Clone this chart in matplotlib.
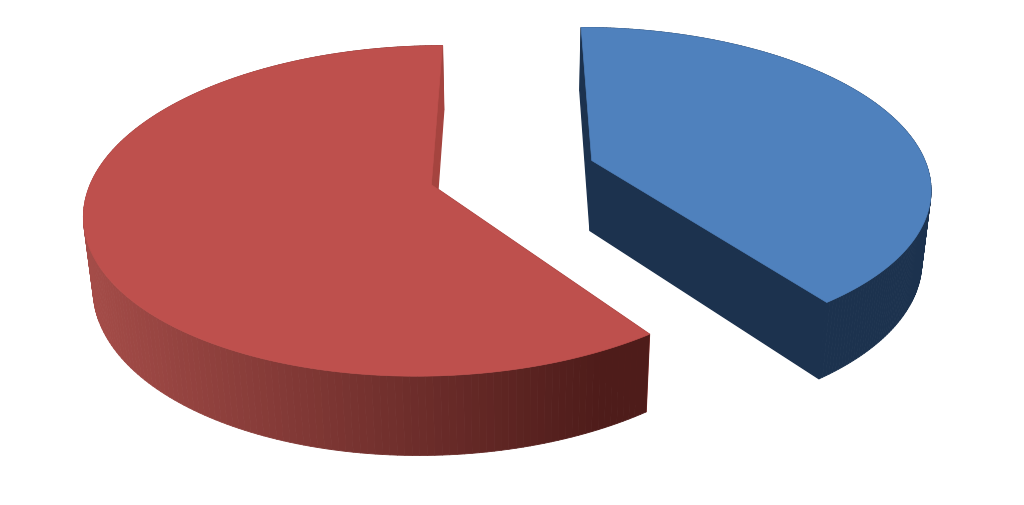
import numpy as np
import matplotlib
matplotlib.use('Agg')
import matplotlib.pyplot as plt
from matplotlib.collections import PolyCollection
from matplotlib.colors import LinearSegmentedColormap, Normalize

# chart data, clockwise from 12 o'clock
slices = ['blue', 'red']
shares = [40, 60]

top_colors = ['#4F81BD', '#BE504D']
cut_colors = ['#1C324E', '#A5443F']
side_colors = [['#1C324E', '#1C324E'], ['#A44C48', '#4E1C1A']]

start_angle = 90
explode = 0.25

# view of the tilted pie
vx, vy = 512.5, 172.5
rx, ry = 337.2, 157.3
tilt = 0.156
depth = 72.2
shrink = 0.022


def project(X, Y, Z):
    w = 1 + tilt * Y + shrink * Z
    return np.column_stack([vx + rx * X / w, vy - (ry * Y - depth * Z) / w])


fig = plt.figure(figsize=(10.24, 5.05), dpi=100)
ax = fig.add_axes([0, 0, 1, 1])
ax.set_xlim(0, 1024)
ax.set_ylim(505, 0)
ax.axis('off')

angle = start_angle
total = sum(shares)
for i, name in enumerate(slices):
    span = 360.0 * shares[i] / total
    a = np.radians(np.linspace(angle, angle - span, 200))
    mid = np.radians(angle - span / 2)
    ox, oy = explode * np.cos(mid), explode * np.sin(mid)
    X = ox + np.cos(a)
    Y = oy + np.sin(a)

    top = project(X, Y, 0)
    bottom = project(X, Y, 1)
    top_c = project(np.array([ox]), np.array([oy]), 0)
    bottom_c = project(np.array([ox]), np.array([oy]), 1)

    # first cut face goes under the rim, last one over it
    for k, z in ((0, 2), (-1, 3.5)):
        face = [top_c[0], top[k], bottom[k], bottom_c[0]]
        ax.fill(*zip(*face), color=cut_colors[i], lw=1, zorder=z)

    # outer rim, one quad per step so the shading shows as bands
    quads = [[top[j], top[j + 1], bottom[j + 1], bottom[j]] for j in range(len(a) - 1)]
    mids = np.array([np.mean(q, axis=0)[0] for q in quads])
    cmap = LinearSegmentedColormap.from_list(name, side_colors[i])
    rgba = cmap(Normalize(90, 600)(mids))
    ax.add_collection(PolyCollection(quads, facecolors=rgba, edgecolors=rgba, linewidths=0.6, zorder=3))

    # top surface
    outline = np.vstack([top_c, top])
    ax.fill(outline[:, 0], outline[:, 1], color=top_colors[i], lw=0.5, zorder=4)

    angle -= span

fig.savefig('out.png', dpi=100, facecolor='white')
